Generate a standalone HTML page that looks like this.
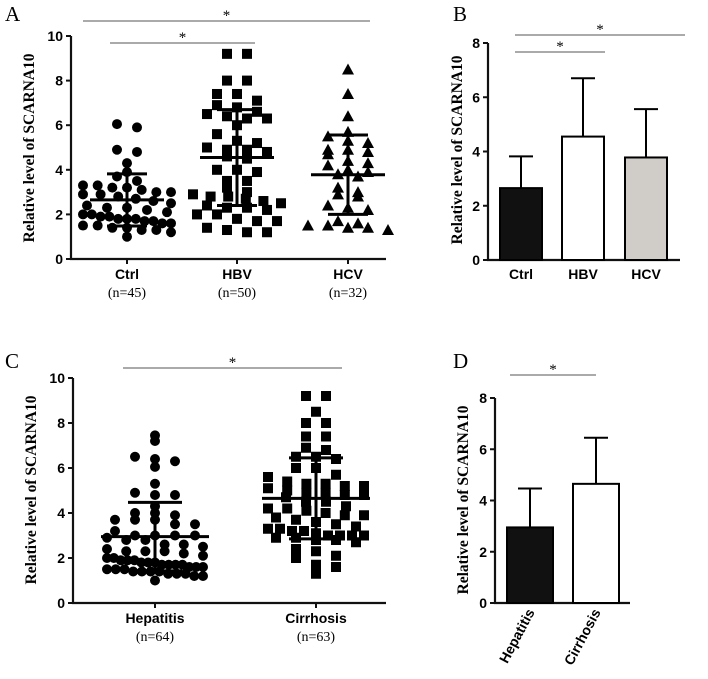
<!DOCTYPE html>
<html><head><meta charset="utf-8"><style>
body{margin:0;background:#fff;}
svg{display:block;}
text{font-family:"Liberation Sans",Arial,sans-serif;}
.ser{font-family:"Liberation Serif","Times New Roman",serif;}
</style></head><body>
<svg id="fig" width="708" height="679" viewBox="0 0 708 679"></svg>
<script>
// Panel A data
const groupsA = ["Ctrl","HBV","HCV"];
const nA = ["(n=45)","(n=50)","(n=32)"];
const ctrlVals = [6.05,5.9,4.9,4.8,4.3,3.9,3.7,3.5,3.3,3.3,3.2,3.2,3.1,3.0,3.0,2.9,2.9,2.8,2.7,2.6,2.5,2.4,2.3,2.3,2.2,2.1,2.0,2.0,1.9,1.9,1.8,1.8,1.8,1.7,1.7,1.6,1.6,1.5,1.5,1.4,1.4,1.3,1.3,1.2,1.0];
const hbvVals = [9.2,9.2,8.0,8.0,7.4,7.4,7.1,6.9,6.8,6.6,6.5,6.4,6.3,6.3,6.0,5.6,5.3,5.2,5.0,4.9,4.9,4.8,4.6,4.5,4.0,4.0,3.9,3.5,3.5,3.2,3.0,2.9,2.8,2.8,2.7,2.6,2.5,2.4,2.3,2.3,2.2,2.0,2.0,1.8,1.7,1.7,1.4,1.3,1.2,1.2];
const hcvVals = [8.5,7.4,6.4,5.7,5.5,5.3,5.2,4.9,4.9,4.8,4.7,4.4,4.3,4.2,4.0,3.9,3.8,3.7,3.2,3.0,2.9,2.8,2.4,2.3,2.2,1.7,1.6,1.5,1.5,1.4,1.4,1.3];
const meanA = [2.65,4.55,3.78];
const sdA = [1.17,2.15,1.78];
// Panel B data
const meanB = [2.65,4.55,3.78];
const sdB = [1.17,2.15,1.78];
// Panel C data
const groupsC = ["Hepatitis","Cirrhosis"];
const nC = ["(n=64)","(n=63)"];
const hepVals = [7.45,7.2,6.5,6.4,6.3,6.05,5.3,4.9,4.8,4.8,4.3,4.0,4.0,3.9,3.7,3.7,3.7,3.5,3.5,3.2,3.0,3.0,3.0,3.0,2.9,2.8,2.8,2.6,2.6,2.5,2.4,2.3,2.3,2.3,2.2,2.1,2.0,2.0,1.9,1.9,1.9,1.8,1.8,1.8,1.7,1.7,1.7,1.7,1.6,1.6,1.6,1.5,1.5,1.5,1.4,1.4,1.4,1.4,1.3,1.3,1.3,1.2,1.2,1.0];
const cirVals = [9.2,9.2,8.5,8.0,8.0,7.4,7.4,6.9,6.8,6.5,6.5,6.4,6.0,6.0,5.7,5.6,5.4,5.3,5.3,5.2,5.2,5.1,5.0,4.9,4.9,4.8,4.8,4.7,4.5,4.5,4.3,4.2,4.2,4.1,4.0,3.9,3.9,3.8,3.7,3.6,3.5,3.4,3.3,3.3,3.2,3.2,3.1,3.0,3.0,3.0,3.0,2.9,2.9,2.8,2.8,2.7,2.4,2.3,2.1,2.0,1.7,1.6,1.3];
const meanC = [2.95,4.65];
const sdC = [1.52,1.8];
// Panel D data
const meanD = [2.95,4.65];
const sdD = [1.52,1.8];
const ticks10 = [0,2,4,6,8,10];
const ticks8 = [0,2,4,6,8];

const svg = document.getElementById('fig');
const NS = 'http://www.w3.org/2000/svg';
function mk(tag, attrs, parent){
  const e = document.createElementNS(NS, tag);
  for (const k in attrs) e.setAttribute(k, attrs[k]);
  (parent||svg).appendChild(e);
  return e;
}
function txt(x,y,s,size,opts){
  const t = mk('text',Object.assign({x:x,y:y,'font-size':size,'text-anchor':'middle'},opts||{}));
  t.textContent = s; return t;
}

function axes(g, x0, x1, y0, yTop, ticks, vmax){
  const ys = v => y0 - (y0 - yTop) * v / vmax;
  const ax = mk('path',{d:`M${x0} ${yTop} V${y0} H${x1}`,stroke:'#111','stroke-width':2.2,fill:'none'},g);
  
  
  ticks.forEach(v=>{
    const tk = mk('line',{x1:x0-5,x2:x0,y1:ys(v),y2:ys(v),stroke:'#111','stroke-width':2},g);
    
    
    const tl = txt(x0-8, ys(v)+5, String(v), 14, {'text-anchor':'end','font-weight':'bold'});
    g.appendChild(tl);
    
    
  });
  return ys;
}
function yTitle(x, yc){
  const t = txt(x, yc, 'Relative level of SCARNA10', 15.5, {'class':'ser','font-weight':'bold',transform:`rotate(-90 ${x} ${yc})`});
  
  
}
function sig(x1,x2,y){
  const l = mk('line',{x1:x1,x2:x2,y1:y,y2:y,stroke:'#555','stroke-width':1});
  
  
  const s = txt((x1+x2)/2, y-1, '*', 15, {'class':'ser'});
  
  
}
function letter(x,y,s){
  const t = txt(x,y,s,21,{'class':'ser','text-anchor':'start'});
  
  
}
function swarm(g, vals, cx, ys, shape, spread){
  const bins = {};
  vals.forEach(v=>{
    const b = Math.round(v/0.45);
    bins[b] = bins[b] || [];
    bins[b].push(v);
  });
  Object.keys(bins).forEach(b=>{
    const arr = bins[b];
    const maxk = Math.max(0.5, (arr.length-1)/2);
    const step = Math.min(20, spread/maxk);
    arr.forEach((v,i)=>{
      const k = i - (arr.length-1)/2;
      const dx = k*step;
      const x = cx+dx, y = ys(v);
      let m;
      if (shape==='circle') m = mk('circle',{cx:x,cy:y,r:5,fill:'#000'},g);
      else if (shape==='square') m = mk('rect',{x:x-5,y:y-5,width:10,height:10,fill:'#000'},g);
      else m = mk('path',{d:`M${x} ${y-6} L${x+6} ${y+5} L${x-6} ${y+5}Z`,fill:'#000'},g);
      
      
    });
  });
}
function meanSD(g, cx, mean, sd, ys, hw, cw){
  const p = mk('path',{d:`M${cx-hw} ${ys(mean)} H${cx+hw} M${cx} ${ys(mean-sd)} V${ys(mean+sd)} M${cx-cw} ${ys(mean+sd)} H${cx+cw} M${cx-cw} ${ys(mean-sd)} H${cx+cw}`,stroke:'#000','stroke-width':3,fill:'none'},g);
  
  
}
function bars(g, means, sds, lefts, w, fills, ys){
  means.forEach((m,i)=>{
    const x = lefts[i];
    const e = mk('path',{d:`M${x+w/2} ${ys(m)} V${ys(m+sds[i])} M${x+w/2-12} ${ys(m+sds[i])} H${x+w/2+12}`,stroke:'#000','stroke-width':2,fill:'none'},g);
    
    
    const r = mk('rect',{x:x,y:ys(m),width:w,height:ys(0)-ys(m),fill:fills[i],stroke:'#000','stroke-width':2},g);
    
    
  });
}

// ---- Panel A
const gA = mk('g',{});  
const ysA = axes(gA, 71, 386, 259, 36, ticks10, 10);
const cxA = [127,237,348];
[ctrlVals,hbvVals,hcvVals].forEach((vals,i)=>{
  swarm(gA, vals, cxA[i], ysA, ['circle','square','triangle'][i], 44);
  meanSD(gA, cxA[i], meanA[i], sdA[i], ysA, 37, 20);
  const tk = mk('line',{x1:cxA[i],x2:cxA[i],y1:259,y2:264,stroke:'#111','stroke-width':2},gA);
   
  const l = txt(cxA[i],279,groupsA[i],14,{'font-weight':'bold'});
   
  const n = txt(cxA[i],297,nA[i],14,{'class':'ser'});
   
});
yTitle(34,148);
sig(83,370,21); sig(110,255,43);
letter(5,21,'A');

// ---- Panel B
const gB = mk('g',{});  
const ysB = axes(gB, 488, 680, 260, 43, ticks8, 8);
const leftB = [500,562,625];
bars(gB, meanB, sdB, leftB, 42, ['#111','#fff','#d0ccc8'], ysB);
groupsA.forEach((g,i)=>{
  const l = txt(leftB[i]+21,279,g,14,{'font-weight':'bold'});
   
});
yTitle(462,150);
sig(515,685,35); sig(515,605,52);
letter(453,21,'B');

// ---- Panel C
const gC = mk('g',{});  
const ysC = axes(gC, 73, 386, 603, 378, ticks10, 10);
const cxC = [155,316];
[hepVals,cirVals].forEach((vals,i)=>{
  swarm(gC, vals, cxC[i], ysC, ['circle','square'][i], 48);
  meanSD(gC, cxC[i], meanC[i], sdC[i], ysC, 54, 27);
  const tk = mk('line',{x1:cxC[i],x2:cxC[i],y1:603,y2:608,stroke:'#111','stroke-width':2},gC);
   
  const l = txt(cxC[i],623,groupsC[i],14,{'font-weight':'bold'});
   
  const n = txt(cxC[i],641,nC[i],14,{'class':'ser'});
   
});
yTitle(36,490);
sig(123,342,368);
letter(5,368,'C');

// ---- Panel D
const gD = mk('g',{});  
const ysD = axes(gD, 495, 630, 603, 398, ticks8, 8);
const leftD = [507,573];
bars(gD, meanD, sdD, leftD, 46, ['#111','#fff'], ysD);
groupsC.forEach((g,i)=>{
  const x = leftD[i]+28, y = 612;
  const l = txt(x,y,g,14,{'font-weight':'bold','text-anchor':'end',transform:`rotate(-62 ${x} ${y})`});
   
});
yTitle(468,500);
sig(510,596,375);
letter(453,368,'D');
</script>
</body></html>
